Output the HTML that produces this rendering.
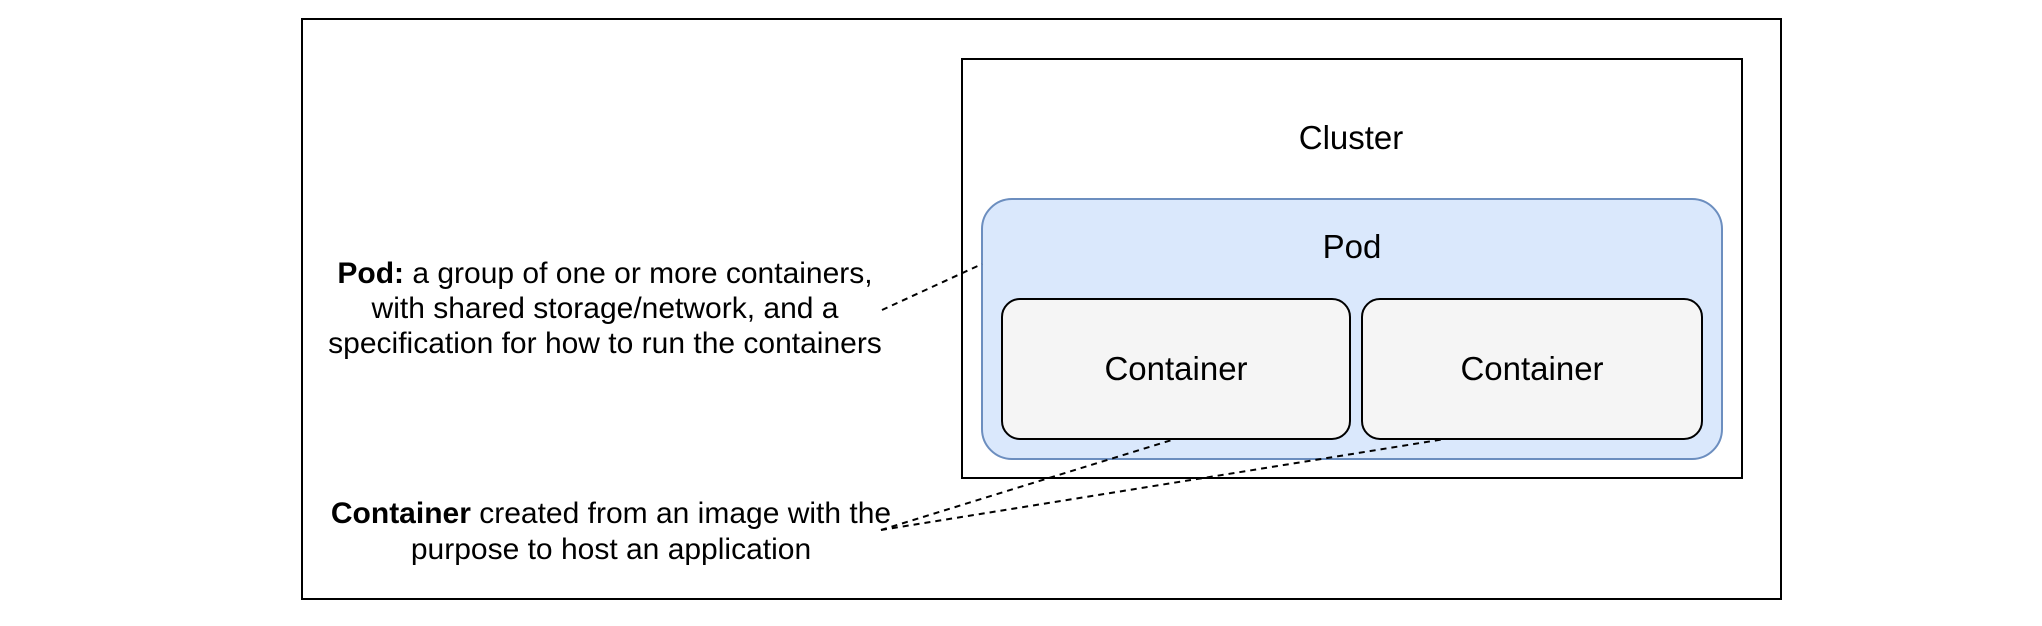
<!DOCTYPE html>
<html><head><meta charset="utf-8"><style>
html,body{margin:0;padding:0;background:#fff;}
svg{display:block;}
text{font-family:"Liberation Sans",Helvetica,Arial,sans-serif;fill:#000;}
</style></head><body>
<svg width="2042" height="626" viewBox="0 0 2042 626" xmlns="http://www.w3.org/2000/svg">
<rect x="302" y="19" width="1479" height="580" fill="#fff" stroke="#000" stroke-width="2"/>
<rect x="962" y="59" width="780" height="419" fill="#fff" stroke="#000" stroke-width="2"/>
<text x="1351" y="149" font-size="33" text-anchor="middle">Cluster</text>
<rect x="982" y="199" width="740" height="260" rx="30" ry="30" fill="#dae8fc" stroke="#6c8ebf" stroke-width="2"/>
<text x="1352" y="258" font-size="33" text-anchor="middle">Pod</text>
<rect x="1002" y="299" width="348" height="140" rx="18" ry="18" fill="#f5f5f5" stroke="#000" stroke-width="2"/>
<rect x="1362" y="299" width="340" height="140" rx="18" ry="18" fill="#f5f5f5" stroke="#000" stroke-width="2"/>
<text x="1176" y="380" font-size="33" text-anchor="middle">Container</text>
<text x="1532" y="380" font-size="33" text-anchor="middle">Container</text>
<g stroke="#000" stroke-width="2" stroke-dasharray="6,5" fill="none">
<line x1="882" y1="310" x2="982" y2="264"/>
<line x1="881" y1="530" x2="1175" y2="439"/>
<line x1="881" y1="530" x2="1445" y2="439"/>
</g>
<g font-size="30" text-anchor="middle">
<text x="605" y="283"><tspan font-weight="bold">Pod:</tspan> a group of one or more containers,</text>
<text x="605" y="318">with shared storage/network, and a</text>
<text x="605" y="353">specification for how to run the containers</text>
<text x="611" y="523"><tspan font-weight="bold">Container</tspan> created from an image with the</text>
<text x="611" y="559">purpose to host an application</text>
</g>
</svg>
</body></html>
